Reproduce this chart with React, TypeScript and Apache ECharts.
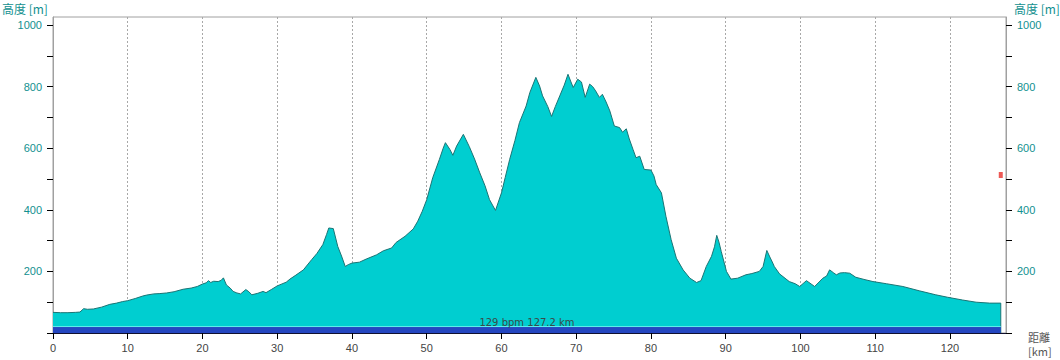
import React, { useEffect, useRef } from "react";
import * as echarts from "echarts";

// distance [km]
const distanceKm: number[] = [
  0, 1, 2, 3, 3.6, 4.1, 4.6, 5.4, 6.5, 7.6, 8.5, 9.3, 10, 11, 12, 12.5, 13.5, 14.3, 15.2, 16.2,
  17.4, 18.5, 19.3, 20, 20.5, 20.8, 21.1, 21.5, 22.1, 22.5, 22.8, 23.2, 23.7, 24.1, 24.6, 25.1,
  25.8, 26.2, 26.6, 27.4, 28.1, 28.5, 29.2, 30, 31.2, 31.7, 32.5, 33.5, 34.6, 35.3, 36.1, 36.6,
  36.9, 37.5, 38.1, 38.6, 39.1, 39.5, 40, 41, 41.9, 43.3, 44.2, 45.3, 45.9, 47.1, 48.2, 48.8,
  49.4, 50, 50.8, 51.7, 52.2, 52.5, 53.1, 53.5, 54, 54.9, 55.7, 56.4, 57.1, 57.8, 58.4, 59.2,
  60, 60.5, 61.1, 61.8, 62.4, 63.3, 63.8, 64.6, 65.1, 65.5, 66.2, 66.7, 67.2, 67.8, 68.4, 68.9,
  69.3, 69.6, 70.2, 70.7, 71.2, 71.8, 72.2, 72.6, 73.1, 73.5, 74, 74.5, 75.1, 75.8, 76.2, 76.7,
  77.1, 77.6, 78, 78.5, 79.1, 80, 80.4, 80.7, 81.4, 82, 82.7, 83.4, 84.3, 85.2, 86.1, 86.7,
  87.4, 88.1, 88.5, 88.8, 89.1, 89.4, 90.1, 90.7, 91.6, 92.7, 93.5, 94.5, 95, 95.5, 95.9, 96.3,
  96.5, 97.2, 98.5, 99.3, 99.9, 100.8, 101.9, 103, 103.5, 103.9, 104.4, 104.8, 105.3, 105.9,
  106.6, 107.4, 108.5, 109.7, 111.5, 113.7, 115.9, 118.1, 119.7, 121.7, 123.5, 125.3, 126.8, 126.8,
];

// elevation [m]
const elevationM: number[] = [
  67, 66, 66, 67, 68, 79, 77, 78, 84, 93, 97, 102, 105, 112, 120, 123, 127, 128, 130, 134,
  142, 146, 151, 159, 163, 170, 164, 168, 167, 171, 179, 156, 146, 135, 130, 127,
  141, 134, 124, 129, 135, 131, 141, 153, 165, 175, 188, 205, 238, 258, 287, 320,
  341, 339, 281, 250, 216, 222, 227, 230, 240, 254, 267, 276, 294, 314, 338, 363,
  395, 433, 504, 564, 600, 618, 596, 577, 607, 645, 605, 565, 520, 478, 433, 398,
  455, 505, 564, 625, 683, 737, 781, 830, 802, 770, 735, 703, 735, 770, 805, 840,
  815, 797, 824, 815, 765, 808, 800, 786, 765, 775, 750, 721, 672, 667, 652, 663,
  630, 596, 569, 574, 531, 529, 510, 482, 455, 379, 303, 243, 205, 178, 164, 170,
  216, 249, 280, 317, 295, 265, 200, 175, 178, 189, 193, 200, 216, 268, 247, 227,
  216, 192, 167, 160, 151, 170, 151, 178, 185, 205, 196, 189, 195, 196,
  194, 181, 174, 167, 160, 151, 137, 124, 116, 107, 100, 97, 97, 0,
];

// heart-rate band along the route
const bandKm: number[] = [0, 126.8];
const bandLevel: number[] = [21, 21];

// current-position marker
const markerKm: number[] = [126.8];
const markerM: number[] = [513];

const xTicks: number[] = [0, 10, 20, 30, 40, 50, 60, 70, 80, 90, 100, 110, 120];
const yTicks: number[] = [0, 100, 200, 300, 400, 500, 600, 700, 800, 900, 1000];
const yLabels: number[] = [200, 400, 600, 800, 1000];

const summaryText = "129 bpm 127.2 km";

export default function App() {
  const ref = useRef<HTMLDivElement>(null);

  useEffect(() => {
    if (!ref.current) return;
    const chart = echarts.init(ref.current, null, { renderer: "svg" });
    const teal = "#12908f";
    const yAxisCommon = (pos: "left" | "right") => ({
      type: "value",
      position: pos,
      min: 0,
      max: 1026,
      axisLine: { show: true, onZero: false, lineStyle: { color: "#a0a0a0", width: 1 } },
      axisTick: { show: true, length: 6, customValues: yTicks, lineStyle: { color: "#000" } },
      axisLabel: {
        customValues: yLabels,
        formatter: (v: number) => String(v),
        color: teal,
        fontSize: 11,
        fontFamily: "Liberation Sans, Arial, sans-serif",
        margin: 11,
      },
      splitLine: { show: false },
    });

    chart.setOption({
      animation: false,
      backgroundColor: "#ffffff",
      grid: {
        left: 53,
        right: 54,
        top: 17,
        bottom: 27,
        show: true,
        borderColor: "#a0a0a0",
        borderWidth: 1,
        backgroundColor: "transparent",
      },
      xAxis: {
        type: "value",
        min: 0,
        max: 127.5,
        axisLine: { show: true, onZero: false, lineStyle: { color: "#101030", width: 1 } },
        axisTick: { show: true, length: 6, customValues: xTicks, lineStyle: { color: "#000" } },
        axisLabel: {
          customValues: xTicks,
          formatter: (v: number) => String(v),
          color: "#444",
          fontSize: 11,
          fontFamily: "Liberation Sans, Arial, sans-serif",
          margin: 9,
        },
        splitLine: {
          show: true,
          lineStyle: { color: "#a8a8a8", type: [2, 2], width: 1 },
        },
      },
      yAxis: [yAxisCommon("left"), { ...yAxisCommon("right") }],
      series: [
        {
          type: "line",
          data: distanceKm.map((d, i) => [d, elevationM[i]]),
          symbol: "none",
          lineStyle: { color: "#1b7474", width: 1 },
          areaStyle: { color: "#00ced0", opacity: 1 },
          z: 2,
        },
        {
          type: "line",
          data: bandKm.map((d, i) => [d, bandLevel[i]]),
          symbol: "none",
          lineStyle: { color: "#5ff0ea", width: 1 },
          areaStyle: { color: "#2446c0", opacity: 1 },
          z: 3,
        },
        {
          type: "scatter",
          data: markerKm.map((d, i) => [d, markerM[i]]),
          symbol: "rect",
          symbolSize: [4, 6],
          itemStyle: { color: "#e8302a" },
          z: 4,
        },
      ],
      graphic: [
        {
          type: "text",
          left: 2,
          top: 2,
          style: { text: "高度 [m]", fill: teal, font: "12px 'Noto Sans CJK JP', sans-serif" },
        },
        {
          type: "text",
          left: 1014,
          top: 2,
          style: { text: "高度 [m]", fill: teal, font: "12px 'Noto Sans CJK JP', sans-serif" },
        },
        {
          type: "text",
          left: 1028,
          top: 330,
          style: {
            text: "距離\n[km]",
            fill: "#555",
            font: "11px 'Noto Sans CJK JP', sans-serif",
            lineHeight: 14,
          },
        },
        {
          type: "text",
          x: 527,
          y: 322,
          style: {
            text: summaryText,
            fill: "#3a4a4a",
            font: "10px 'DejaVu Sans', sans-serif",
            align: "center",
            verticalAlign: "middle",
          },
          z: 10,
        },
      ],
    });
    return () => chart.dispose();
  }, []);

  return (
    <div
      ref={ref}
      style={{ position: "fixed", left: 0, top: 0, width: 1060, height: 360, background: "#fff" }}
    />
  );
}
